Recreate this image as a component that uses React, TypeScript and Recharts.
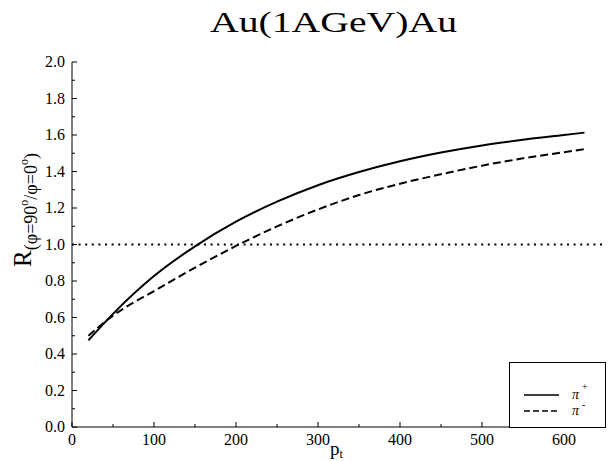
import { LineChart, Line, XAxis, YAxis, ReferenceLine, Legend } from "recharts"

// transverse momentum (MeV/c) and ratio R for pi+ / pi-
const ptValues = [20, 50, 100, 150, 200, 250, 300, 350, 400, 450, 500, 550, 600, 625]
const piPlusR = [0.475, 0.62, 0.827, 0.99, 1.125, 1.235, 1.325, 1.397, 1.456, 1.504, 1.543, 1.574, 1.6, 1.613]
const piMinusR = [0.5, 0.61, 0.745, 0.873, 0.992, 1.099, 1.192, 1.271, 1.333, 1.385, 1.432, 1.472, 1.506, 1.522]

const xTicks = [0, 50, 100, 150, 200, 250, 300, 350, 400, 450, 500, 550, 600]
const yTicks = [0, 0.1, 0.2, 0.3, 0.4, 0.5, 0.6, 0.7, 0.8, 0.9, 1, 1.1, 1.2, 1.3, 1.4, 1.5, 1.6, 1.7, 1.8, 1.9, 2]

const data = ptValues.map((pt, i) => ({ pt, piPlus: piPlusR[i], piMinus: piMinusR[i] }))

const serif = '"Liberation Serif", "DejaVu Serif", "Noto Serif", "Times New Roman", Times, serif'
const txt = { fontFamily: serif }

const isMajorX = (v: number) => v % 100 === 0
const isMajorY = (v: number) => Math.round(v * 10) % 2 === 0

const BottomTick = ({ x, y, payload }: any) => {
  const major = isMajorX(payload.value)
  return (
    <g>
      <line x1={x} x2={x} y1={y} y2={y - (major ? 5 : 3)} stroke="#000" />
      {major && (
        <text x={x} y={y + 18} textAnchor="middle" style={txt} fontSize={16} fill="#000">
          {payload.value}
        </text>
      )}
    </g>
  )
}

const TopTick = ({ x, y, payload }: any) => {
  const major = isMajorX(payload.value)
  return <line x1={x} x2={x} y1={y} y2={y + (major ? 5 : 3)} stroke="#000" />
}

const LeftTick = ({ x, y, payload }: any) => {
  const major = isMajorY(payload.value)
  return (
    <g>
      <line x1={x} x2={x + (major ? 5 : 3)} y1={y} y2={y} stroke="#000" />
      {major && (
        <text x={x - 7} y={y + 5} textAnchor="end" style={txt} fontSize={16} fill="#000">
          {payload.value.toFixed(1)}
        </text>
      )}
    </g>
  )
}

const RightTick = ({ x, y, payload }: any) => {
  const major = isMajorY(payload.value)
  return <line x1={x} x2={x - (major ? 5 : 3)} y1={y} y2={y} stroke="#000" />
}

const LegendBox = ({ payload }: any) => (
  <div
    style={{
      width: 97,
      height: 66,
      boxSizing: "border-box",
      border: "1px solid #000",
      background: "#fff",
      position: "relative",
    }}
  >
    {(payload || []).map((item: any, i: number) => (
      <div key={item.value} style={{ position: "absolute", left: 14, top: 25 + i * 16, height: 14, width: 80 }}>
        <svg width={36} height={14} style={{ position: "absolute", left: 0, top: 0 }}>
          <line x1={0} x2={35} y1={7} y2={7} stroke="#000" strokeWidth={1.3} strokeDasharray={i === 1 ? "6 3" : undefined} />
        </svg>
        <span
          style={{
            position: "absolute",
            left: 48,
            top: 0,
            fontFamily: serif,
            fontStyle: "italic",
            fontSize: 14,
            lineHeight: "14px",
          }}
        >
          π
        </span>
        <span
          style={{
            position: "absolute",
            left: 58,
            top: i === 0 ? -6 : -4,
            fontFamily: serif,
            fontSize: 10,
            lineHeight: "10px",
          }}
        >
          {i === 0 ? "+" : "-"}
        </span>
      </div>
    ))}
  </div>
)

export default function App() {
  return (
    <div style={{ position: "absolute", left: 0, top: 0, width: 609, height: 461, background: "#fff" }}>
      <LineChart width={609} height={461} data={data} margin={{ top: 62, right: 4, left: 0, bottom: 0 }}>
        <XAxis
          dataKey="pt"
          type="number"
          domain={[0, 650]}
          ticks={xTicks}
          interval={0}
          height={34}
          tickSize={0}
          tickMargin={0}
          tickLine={false}
          tick={<BottomTick />}
          axisLine={{ stroke: "#000" }}
        />
        <XAxis
          xAxisId="top"
          orientation="top"
          type="number"
          domain={[0, 650]}
          ticks={xTicks}
          interval={0}
          height={0}
          tickSize={0}
          tickMargin={0}
          tickLine={false}
          tick={<TopTick />}
          axisLine={{ stroke: "#000" }}
        />
        <YAxis
          type="number"
          domain={[0, 2]}
          ticks={yTicks}
          interval={0}
          width={72}
          tickSize={0}
          tickMargin={0}
          tickLine={false}
          tick={<LeftTick />}
          axisLine={{ stroke: "#000" }}
        />
        <YAxis
          yAxisId="right"
          orientation="right"
          type="number"
          domain={[0, 2]}
          ticks={yTicks}
          interval={0}
          width={0}
          tickSize={0}
          tickMargin={0}
          tickLine={false}
          tick={<RightTick />}
          axisLine={{ stroke: "#000" }}
        />
        <ReferenceLine y={1} stroke="#000" strokeWidth={2} strokeDasharray="2 4.6" />
        <Legend
          layout="horizontal"
          verticalAlign="middle"
          align="center"
          content={<LegendBox />}
          wrapperStyle={{ left: 509, top: 362, width: 97, height: 66 }}
        />
        <Line
          type="monotone"
          dataKey="piPlus"
          name="π+"
          stroke="#000"
          strokeWidth={2}
          dot={false}
          isAnimationActive={false}
        />
        <Line
          type="monotone"
          dataKey="piMinus"
          name="π-"
          stroke="#000"
          strokeWidth={2}
          strokeDasharray="8 4"
          dot={false}
          isAnimationActive={false}
        />
      </LineChart>
      <svg
        width={609}
        height={461}
        style={{ position: "absolute", left: 0, top: 0, pointerEvents: "none" }}
      >
        <text
          x={210}
          y={32}
          style={txt}
          fontSize={29}
          textLength={247}
          lengthAdjust="spacingAndGlyphs"
          fill="#000"
        >
          Au(1AGeV)Au
        </text>
        <text x={330} y={455} style={txt} fontSize={19} fill="#000">
          p<tspan fontSize={12} dy={3}>t</tspan>
        </text>
        <text
          transform="translate(31, 210) rotate(-90)"
          textAnchor="middle"
          style={txt}
          fontSize={25}
          fill="#000"
        >
          R
          <tspan fontSize={18} dy={6}>(φ=90</tspan>
          <tspan fontSize={12} dy={-9}>o</tspan>
          <tspan fontSize={18} dy={9}>/φ=0</tspan>
          <tspan fontSize={12} dy={-9}>o</tspan>
          <tspan fontSize={18} dy={9}>)</tspan>
        </text>
      </svg>
    </div>
  )
}
